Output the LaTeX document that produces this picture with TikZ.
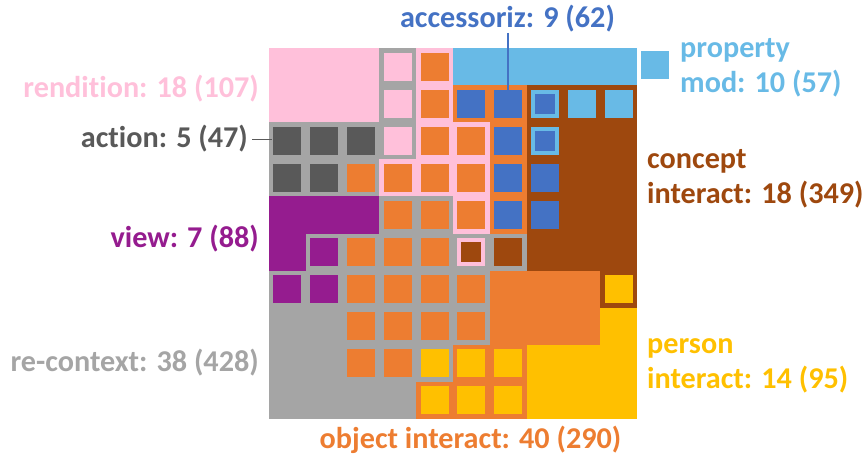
\documentclass[tikz,border=0pt]{standalone}
\usepackage{fontspec}
\setmainfont{Carlito}[Ligatures=CommonOff]
\definecolor{cPink}{HTML}{FFC0DA}
\definecolor{cLBlue}{HTML}{68BAE6}
\definecolor{cDGray}{HTML}{595959}
\definecolor{cGray}{HTML}{A5A5A5}
\definecolor{cPurple}{HTML}{951C8F}
\definecolor{cBlue}{HTML}{4472C4}
\definecolor{cBrown}{HTML}{9E480E}
\definecolor{cOrange}{HTML}{ED7D31}
\definecolor{cYellow}{HTML}{FFC000}
% grid origin (269,48), cell 36.8 x 37.1
% region of whole cells: c0 r0 c1 r1 colour
\newcommand\region[5]{\fill[#5] ({269+36.8*(#1)},{48+37.1*(#2)}) rectangle ({269+36.8*(#3+1)},{48+37.1*(#4+1)});}
% small square in cell (col,row)
\newcommand\cell[3]{\fill[#3] ({269+36.8*(#1)+4.4},{48+37.1*(#2)+4.55}) rectangle ++(28,28);}
% framed square: outer colour, inner colour
\newcommand\fcell[4]{\cell{#1}{#2}{#3}\fill[#4] ({269+36.8*(#1)+8.4},{48+37.1*(#2)+8.55}) rectangle ++(20,20);}
\tikzset{
  lbl/.style={inner sep=0pt, font=\fontsize{30.2}{36}\selectfont\bfseries},
}
\begin{document}
\begin{tikzpicture}[x=1pt,y=-1pt]
\useasboundingbox (0,0) rectangle (867,457);
% background regions
\region{0}{0}{9}{9}{cGray}
\region{0}{0}{2}{1}{cPink}
\region{4}{0}{4}{3}{cPink}
\region{3}{3}{3}{3}{cPink}
\region{5}{2}{5}{4}{cPink}
\region{5}{0}{9}{0}{cLBlue}
\region{5}{1}{6}{1}{cOrange}
\region{6}{2}{6}{4}{cOrange}
\region{6}{6}{8}{7}{cOrange}
\region{5}{8}{6}{8}{cOrange}
\region{4}{9}{6}{9}{cOrange}
\region{7}{1}{9}{5}{cBrown}
\region{9}{6}{9}{6}{cBrown}
\region{0}{4}{2}{4}{cPurple}
\region{0}{5}{0}{5}{cPurple}
\region{9}{7}{9}{9}{cYellow}
\region{7}{8}{8}{9}{cYellow}
% row 0
\cell{3}{0}{cPink}\cell{4}{0}{cOrange}
% row 1
\cell{3}{1}{cPink}\cell{4}{1}{cOrange}\cell{5}{1}{cBlue}\cell{6}{1}{cBlue}
\fcell{7}{1}{cLBlue}{cBlue}\cell{8}{1}{cLBlue}\cell{9}{1}{cLBlue}
% row 2
\cell{0}{2}{cDGray}\cell{1}{2}{cDGray}\cell{2}{2}{cDGray}\cell{3}{2}{cPink}
\cell{4}{2}{cOrange}\cell{5}{2}{cOrange}\cell{6}{2}{cBlue}\fcell{7}{2}{cLBlue}{cBlue}
% row 3
\cell{0}{3}{cDGray}\cell{1}{3}{cDGray}\cell{2}{3}{cOrange}\cell{3}{3}{cOrange}
\cell{4}{3}{cOrange}\cell{5}{3}{cOrange}\cell{6}{3}{cBlue}\cell{7}{3}{cBlue}
% row 4
\cell{3}{4}{cOrange}\cell{4}{4}{cOrange}\cell{5}{4}{cOrange}\cell{6}{4}{cBlue}\cell{7}{4}{cBlue}
% row 5
\cell{1}{5}{cPurple}\cell{2}{5}{cOrange}\cell{3}{5}{cOrange}\cell{4}{5}{cOrange}
\fcell{5}{5}{cPink}{cBrown}\cell{6}{5}{cBrown}
% row 6
\cell{0}{6}{cPurple}\cell{1}{6}{cPurple}\cell{2}{6}{cOrange}\cell{3}{6}{cOrange}
\cell{4}{6}{cOrange}\cell{5}{6}{cOrange}\cell{9}{6}{cYellow}
% row 7
\cell{2}{7}{cOrange}\cell{3}{7}{cOrange}\cell{4}{7}{cOrange}\cell{5}{7}{cOrange}
% row 8
\cell{2}{8}{cOrange}\cell{3}{8}{cOrange}\cell{4}{8}{cYellow}\cell{5}{8}{cYellow}\cell{6}{8}{cYellow}
% row 9
\cell{4}{9}{cYellow}\cell{5}{9}{cYellow}\cell{6}{9}{cYellow}
% the accessoriz square that the label points at
\coordinate (accsq) at ({269+36.8*6+18.4},{48+37.1*1+4.55});
% extra property-mod square beside the grid
\fill[cLBlue] (641,51) rectangle ++(28,28);
% labels
\node[lbl, text=cBlue, anchor=base] (acc) at (507.5,28) {accessoriz: 9 (62)};
\node[lbl, text=cLBlue, anchor=base west] (prop1) at (680,58) {property};
\node[lbl, text=cLBlue, anchor=base west] (prop2) at (680,93) {mod: 10 (57)};
\node[lbl, text=cPink, anchor=base east] (rend) at (259,98) {rendition: 18 (107)};
\node[lbl, text=cDGray, anchor=base east] (act) at (248,148) {action: 5 (47)};
\node[lbl, text=cBrown, anchor=base west] (con1) at (647,169) {concept};
\node[lbl, text=cBrown, anchor=base west] (con2) at (647,204) {interact: 18 (349)};
\node[lbl, text=cPurple, anchor=base east] (view) at (259,247) {view: 7 (88)};
\node[lbl, text=cGray, anchor=base east] (rec) at (259,371.5) {re-context: 38 (428)};
\node[lbl, text=cYellow, anchor=base west] (per1) at (647,353) {person};
\node[lbl, text=cYellow, anchor=base west] (per2) at (647,388) {interact: 14 (95)};
\node[lbl, text=cOrange, anchor=base] (obj) at (470.5,448) {object interact: 40 (290)};
% pointer lines
\coordinate (actend) at (272,139.3);
\draw[cBlue, line width=1.6pt] (acc.south -| accsq) -- (accsq);
\draw[cDGray, line width=1.4pt] ([xshift=4pt]act.east |- actend) -- (actend);
\end{tikzpicture}
\end{document}
